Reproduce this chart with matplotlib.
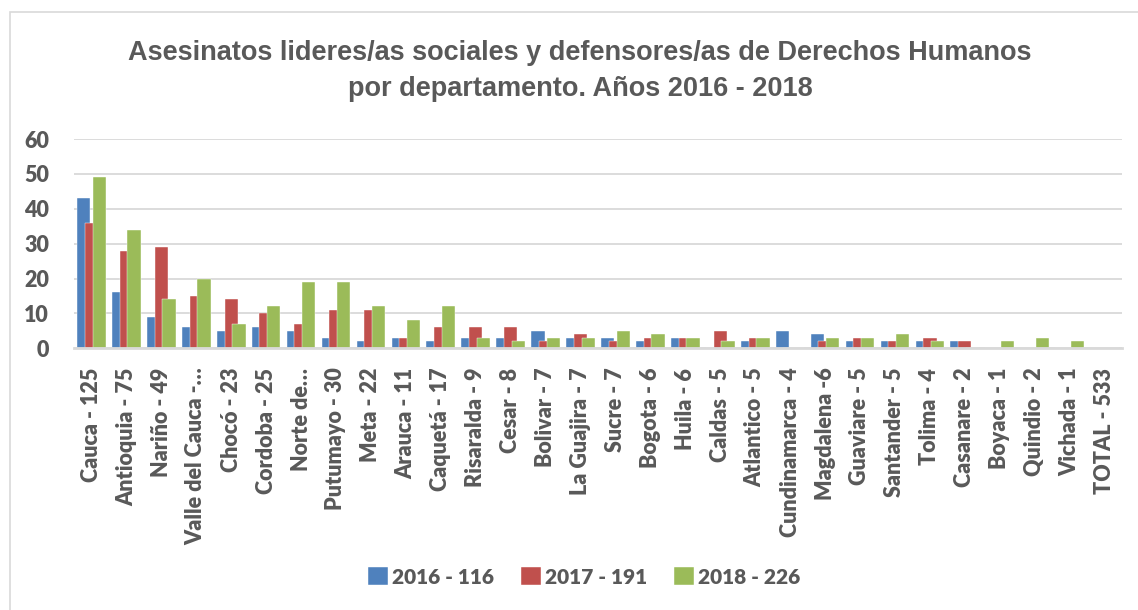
import matplotlib
matplotlib.use("Agg")
import matplotlib.pyplot as plt
import numpy as np
from matplotlib.patches import Rectangle

categories = ["Cauca - 125", "Antioquia - 75", "Nariño - 49", "Valle del Cauca -…",
              "Chocó - 23", "Cordoba - 25", "Norte de…", "Putumayo - 30", "Meta - 22",
              "Arauca - 11", "Caquetá - 17", "Risaralda - 9", "Cesar - 8", "Bolivar - 7",
              "La Guajira - 7", "Sucre - 7", "Bogota - 6", "Huila - 6", "Caldas - 5",
              "Atlantico - 5", "Cundinamarca - 4", "Magdalena -6", "Guaviare - 5",
              "Santander - 5", "Tolima - 4", "Casanare - 2", "Boyaca - 1", "Quindio - 2",
              "Vichada - 1", "TOTAL - 533"]
v2016 = [43, 16, 9, 6, 5, 6, 5, 3, 2, 3, 2, 3, 3, 5, 3, 3, 2, 3, 0, 2, 5, 4, 2, 2, 2, 2, 0, 0, 0, 0]
v2017 = [36, 28, 29, 15, 14, 10, 7, 11, 11, 3, 6, 6, 6, 2, 4, 2, 3, 3, 5, 3, 0, 2, 3, 2, 3, 2, 0, 0, 0, 0]
v2018 = [49, 34, 14, 20, 7, 12, 19, 19, 12, 8, 12, 3, 2, 3, 3, 5, 4, 3, 2, 3, 0, 3, 3, 4, 2, 0, 2, 3, 2, 0]
series_labels = ["2016 - 116", "2017 - 191", "2018 - 226"]
colors = ["#4F81BD", "#C0504D", "#9BBB59"]
yticks = [0, 10, 20, 30, 40, 50, 60]
title = "Asesinatos lideres/as sociales y defensores/as de Derechos Humanos\npor departamento. Años 2016 - 2018"

W, H = 1138, 610
fig = plt.figure(figsize=(W / 100, H / 100), dpi=100)
fig.patch.set_facecolor("white")

# chart border (top and left visible)
fig.patches.append(Rectangle((10 / W, -0.1), 1.2, 1 - 12 / H + 0.1, transform=fig.transFigure,
                             fill=False, edgecolor="#D9D9D9", linewidth=1.2, zorder=0))

ax = fig.add_axes([74 / W, 1 - 348.3 / H, (1122 - 74) / W, (348.3 - 139) / H])
x = np.arange(len(categories))
bw = 0.38
offs = [-0.22, 0.0, 0.22]
gray = "#595959"
tick_font = ["Lato", "DejaVu Sans"]

for vals, off, c, lab in zip([v2016, v2017, v2018], offs, colors, series_labels):
    ax.bar(x + off, vals, width=bw, color=c, label=lab, zorder=3,
           edgecolor="white", linewidth=0.3)

ax.set_xlim(-0.5, len(categories) - 0.5)
ax.set_ylim(0, 60)
ax.set_yticks(yticks)
ax.yaxis.grid(True, color="#D9D9D9", linewidth=1.3, zorder=0)
ax.set_axisbelow(True)
for s in ["top", "right", "left"]:
    ax.spines[s].set_visible(False)
ax.spines["bottom"].set_color("#D9D9D9")
ax.spines["bottom"].set_linewidth(2)
ax.spines["bottom"].set_zorder(4)
ax.tick_params(axis="both", length=0)
ax.tick_params(axis="y", pad=18)
ax.tick_params(axis="x", pad=14)
ax.set_xticks(x)
ax.set_xticklabels(categories, rotation=90, ha="center", va="top")
for t in ax.get_xticklabels() + ax.get_yticklabels():
    t.set_family(tick_font)
    t.set_fontweight("heavy")
    t.set_fontsize(15.5)
    t.set_color(gray)

fig.text(580 / W, 1 - 71 / H, title, ha="center", va="center", fontsize=19.5,
         fontweight="bold", color=gray, linespacing=1.55,
         family=["Liberation Sans Narrow", "Liberation Sans", "DejaVu Sans"])

leg = fig.legend(loc="center", bbox_to_anchor=(584 / W, 1 - 577 / H), ncol=3, frameon=False,
                 handlelength=0.95, handleheight=0.95, handletextpad=0.2, columnspacing=1.3,
                 prop={"family": tick_font, "weight": "heavy", "size": 15})
for t in leg.get_texts():
    t.set_color(gray)

fig.savefig("out.png", dpi=100, facecolor="white")
